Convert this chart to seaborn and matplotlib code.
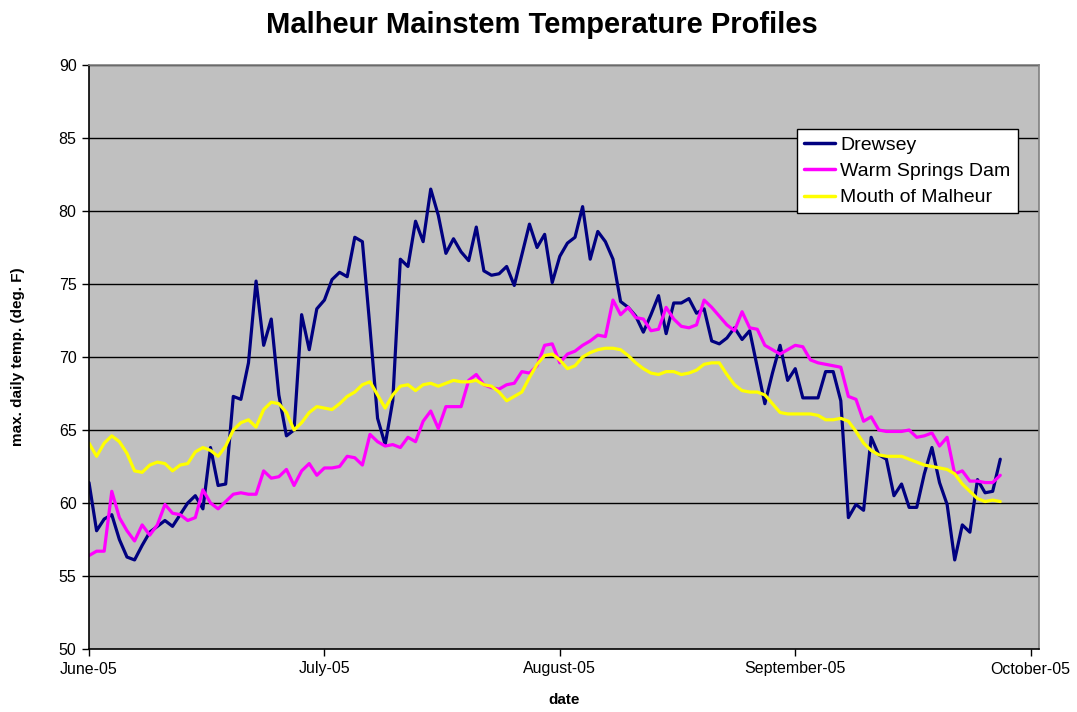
import pandas as pd
import seaborn as sns
import matplotlib.pyplot as plt
import matplotlib.dates as mdates

# Daily maximum temperatures (deg F), June 1 - Sept 29, 2005
drewsey = [61.4, 58.1, 58.9, 59.2, 57.5, 56.3, 56.1, 57.1, 58.0, 58.4,
           58.8, 58.4, 59.2, 60.0, 60.5, 59.6, 63.8, 61.2, 61.3, 67.3,
           67.1, 69.6, 75.2, 70.8, 72.6, 67.4, 64.6, 65.0, 72.9, 70.5,
           73.3, 73.9, 75.3, 75.8, 75.5, 78.2, 77.9, 72.0, 65.8, 64.0,
           67.0, 76.7, 76.2, 79.3, 77.9, 81.5, 79.7, 77.1, 78.1, 77.2,
           76.6, 78.9, 75.9, 75.6, 75.7, 76.2, 74.9, 77.0, 79.1, 77.5,
           78.4, 75.1, 76.9, 77.8, 78.2, 80.3, 76.7, 78.6, 77.9, 76.7,
           73.8, 73.4, 72.8, 71.7, 72.9, 74.2, 71.6, 73.7, 73.7, 74.0,
           73.0, 73.3, 71.1, 70.9, 71.3, 72.0, 71.2, 71.8, 69.3, 66.8,
           68.9, 70.8, 68.4, 69.2, 67.2, 67.2, 67.2, 69.0, 69.0, 67.0,
           59.0, 59.9, 59.5, 64.5, 63.3, 63.0, 60.5, 61.3, 59.7, 59.7,
           62.0, 63.8, 61.4, 59.9, 56.1, 58.5, 58.0, 61.6, 60.7, 60.8,
           63.0]
warm_springs = [56.4, 56.7, 56.7, 60.8, 59.0, 58.1, 57.4, 58.5, 57.8, 58.5,
                59.9, 59.3, 59.2, 58.8, 59.0, 60.9, 60.0, 59.6, 60.1, 60.6,
                60.7, 60.6, 60.6, 62.2, 61.7, 61.8, 62.3, 61.2, 62.2, 62.7,
                61.9, 62.4, 62.4, 62.5, 63.2, 63.1, 62.6, 64.7, 64.2, 63.9,
                64.0, 63.8, 64.5, 64.2, 65.6, 66.3, 65.1, 66.6, 66.6, 66.6,
                68.4, 68.8, 68.1, 67.9, 67.8, 68.1, 68.2, 69.0, 68.9, 69.4,
                70.8, 70.9, 69.6, 70.2, 70.4, 70.8, 71.1, 71.5, 71.4, 73.9,
                72.9, 73.4, 72.7, 72.6, 71.8, 71.9, 73.4, 72.6, 72.1, 72.0,
                72.2, 73.9, 73.4, 72.8, 72.2, 71.8, 73.1, 72.0, 71.9, 70.8,
                70.5, 70.2, 70.5, 70.8, 70.7, 69.8, 69.6, 69.5, 69.4, 69.3,
                67.3, 67.1, 65.6, 65.9, 65.0, 64.9, 64.9, 64.9, 65.0, 64.5,
                64.6, 64.8, 63.9, 64.5, 62.0, 62.2, 61.5, 61.5, 61.4, 61.4,
                61.9]
mouth = [64.1, 63.2, 64.1, 64.6, 64.2, 63.4, 62.2, 62.1, 62.6, 62.8,
         62.7, 62.2, 62.6, 62.7, 63.5, 63.8, 63.6, 63.2, 63.9, 65.0,
         65.5, 65.7, 65.2, 66.4, 66.9, 66.8, 66.2, 65.0, 65.5, 66.2,
         66.6, 66.5, 66.4, 66.8, 67.3, 67.6, 68.1, 68.3, 67.4, 66.5,
         67.4, 68.0, 68.1, 67.7, 68.1, 68.2, 68.0, 68.2, 68.4, 68.3,
         68.3, 68.4, 68.1, 68.0, 67.6, 67.0, 67.3, 67.6, 68.6, 69.5,
         70.1, 70.2, 69.8, 69.2, 69.4, 70.0, 70.3, 70.5, 70.6, 70.6,
         70.5, 70.1, 69.6, 69.2, 68.9, 68.8, 69.0, 69.0, 68.8, 68.9,
         69.1, 69.5, 69.6, 69.6, 68.8, 68.1, 67.7, 67.6, 67.6, 67.4,
         66.8, 66.2, 66.1, 66.1, 66.1, 66.1, 66.0, 65.7, 65.7, 65.8,
         65.6, 64.9, 64.1, 63.6, 63.3, 63.2, 63.2, 63.2, 63.0, 62.8,
         62.6, 62.5, 62.4, 62.3, 62.0, 61.3, 60.8, 60.3, 60.1, 60.2,
         60.1]

series_names = ["Drewsey", "Warm Springs Dam", "Mouth of Malheur"]
colors = ["#000080", "#FF00FF", "#FFFF00"]
tick_dates = ["2005-06-01", "2005-07-02", "2005-08-02", "2005-09-02", "2005-10-03"]

dates = pd.date_range("2005-06-01", periods=len(drewsey), freq="D")
df = pd.concat([
    pd.DataFrame({"date": dates, "temp": vals, "site": name})
    for name, vals in zip(series_names, [drewsey, warm_springs, mouth])
])

sns.set_style("white")
plt.rcParams["font.family"] = ["Liberation Sans", "DejaVu Sans"]
plt.rcParams["text.color"] = "black"
plt.rcParams["axes.labelcolor"] = "black"
plt.rcParams["xtick.color"] = "black"
plt.rcParams["ytick.color"] = "black"

fig = plt.figure(figsize=(10.77, 7.12), dpi=100)
ax = fig.add_axes([89 / 1077, 1 - 649 / 712, 950 / 1077, 584 / 712])
ax.set_facecolor("#C0C0C0")

sns.lineplot(data=df, x="date", y="temp", hue="site", hue_order=series_names,
             palette=colors, linewidth=2.3, ax=ax)

ax.set_ylim(50, 90)
ax.set_yticks(range(50, 91, 5))
for y in range(55, 91, 5):
    ax.axhline(y, color="black", linewidth=1.0, zorder=0.5)

start = pd.Timestamp("2005-06-01")
ax.set_xlim(start, start + pd.Timedelta(days=125.1))
ax.set_xticks(pd.to_datetime(tick_dates))
ax.xaxis.set_major_formatter(mdates.DateFormatter("%B-%y"))

ax.tick_params(axis="both", labelsize=11.5, length=5, width=1, colors="black",
               direction="out", left=True, bottom=True, pad=4)
for side in ["left", "bottom"]:
    ax.spines[side].set_color("black")
    ax.spines[side].set_linewidth(1.2)
for side in ["top", "right"]:
    ax.spines[side].set_color("#808080")
    ax.spines[side].set_linewidth(1.2)

ax.set_xlabel("date", fontsize=11, fontweight="bold", labelpad=12, color="black")
ax.set_ylabel("max. daily temp. (deg. F)", fontsize=11, fontweight="bold", labelpad=24,
              color="black")
fig.suptitle("Malheur Mainstem Temperature Profiles", fontsize=21, fontweight="bold",
             x=0.503, y=0.985, color="black")

leg = ax.legend(loc="upper left", bbox_to_anchor=(0.745, 0.890), borderaxespad=0,
                fontsize=14, frameon=True, fancybox=False, edgecolor="black",
                framealpha=1, handlelength=1.6, handletextpad=0.3, borderpad=0.35,
                labelspacing=0.45)
leg.get_frame().set_linewidth(1.0)
for text in leg.get_texts():
    text.set_color("black")
for line in leg.get_lines():
    line.set_linewidth(2.5)

fig.savefig("out.png", dpi=100)
